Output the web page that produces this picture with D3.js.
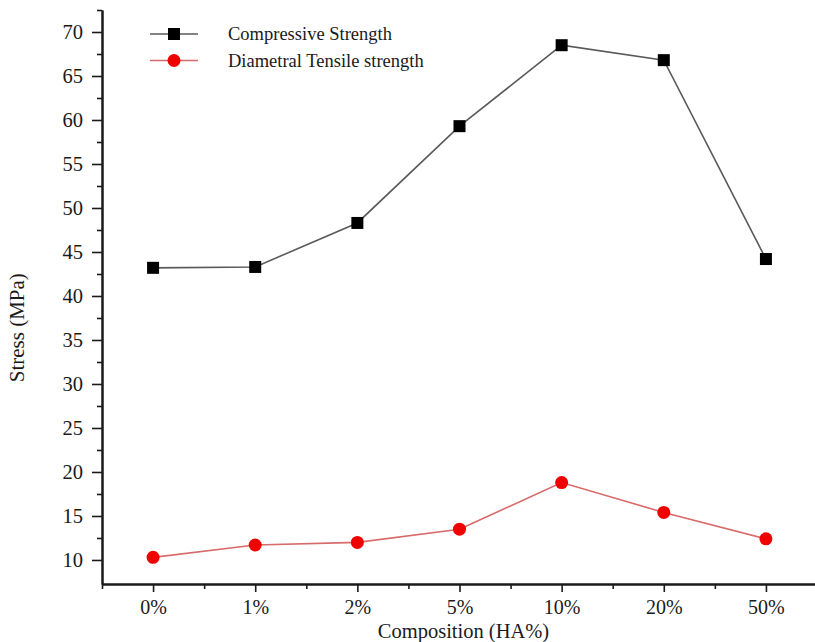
<!DOCTYPE html>
<html>
<head>
<meta charset="utf-8">
<script src="https://cdn.jsdelivr.net/npm/d3@7"></script>
<style>
  html, body { margin: 0; padding: 0; background: #fff; }
  svg { display: block; }
  text { font-family: "Times New Roman", "Liberation Serif", serif; fill: #1a1a1a; }
</style>
</head>
<body>
<svg id="chart" width="815" height="642"></svg>
<script>
// Composition categories (HA content)
const categories = ["0%", "1%", "2%", "5%", "10%", "20%", "50%"];
// Mechanical properties in MPa
const compressive = [43.2, 43.3, 48.3, 59.3, 68.5, 66.8, 44.2];
const tensile = [10.3, 11.7, 12.0, 13.5, 18.8, 15.4, 12.4];
// Y-axis tick values
const yMajorTicks = [10, 15, 20, 25, 30, 35, 40, 45, 50, 55, 60, 65, 70];
const yMinorTicks = [12.5, 17.5, 22.5, 27.5, 32.5, 37.5, 42.5, 47.5, 52.5, 57.5, 62.5, 67.5, 72.5];

const seriesList = [
  { name: "Compressive Strength", values: compressive, line: "#5a5a5a", fill: "#000", shape: "square" },
  { name: "Diametral Tensile strength", values: tensile, line: "#d86a6a", fill: "#f00000", shape: "circle" }
];

const serif = "'Times New Roman', 'Liberation Serif', serif";
const svg = d3.select("#chart");

const axisLeftX = 102, axisBottomY = 584, axisTopY = 10;

const x = d3.scaleLinear().domain([-0.5, 6.5]).range([axisLeftX, 817]);
const y = d3.scaleLinear().domain([7.27, 72.5]).range([axisBottomY, axisTopY]);

// Axes with major and minor ticks
const xAxisG = svg.append("g").attr("transform", `translate(0,${axisBottomY})`);
xAxisG.call(d3.axisBottom(x).tickValues(d3.range(categories.length))
  .tickFormat(i => categories[i]).tickSize(8).tickPadding(8).tickSizeOuter(0));
const xMinor = svg.append("g").attr("transform", `translate(0,${axisBottomY})`);
xMinor.call(d3.axisBottom(x).tickValues(d3.range(-0.5, 6.6, 1)).tickFormat("").tickSize(5).tickSizeOuter(0));

const yAxisG = svg.append("g").attr("transform", `translate(${axisLeftX},0)`);
yAxisG.call(d3.axisLeft(y).tickValues(yMajorTicks).tickSize(10).tickPadding(9).tickSizeOuter(0));
const yMinor = svg.append("g").attr("transform", `translate(${axisLeftX},0)`);
yMinor.call(d3.axisLeft(y).tickValues(yMinorTicks).tickFormat("").tickSize(5).tickSizeOuter(0));

[xAxisG, xMinor, yAxisG, yMinor].forEach(g => {
  g.attr("font-family", serif);
  g.selectAll(".domain").attr("stroke", "#1a1a1a").attr("stroke-width", 2);
  g.selectAll(".tick line").attr("stroke", "#1a1a1a").attr("stroke-width", 1.6);
  g.selectAll(".tick text")
    .style("font-family", serif).style("font-size", "20.5px").style("fill", "#1a1a1a");
});
xAxisG.selectAll(".tick text").style("font-size", "20px");

// Axis titles
svg.append("text")
  .attr("x", x(3) + 4).attr("y", 638)
  .attr("text-anchor", "middle").style("font-size", "20.5px")
  .text("Composition (HA%)");
svg.append("text")
  .attr("transform", `translate(24,${y(36.4)}) rotate(-90)`)
  .attr("text-anchor", "middle").style("font-size", "21px")
  .text("Stress (MPa)");

// Series lines and markers
const line = d3.line().x((d, i) => x(i)).y(d => y(d));

seriesList.forEach(s => {
  svg.append("path").datum(s.values)
    .attr("d", line).attr("fill", "none")
    .attr("stroke", s.line).attr("stroke-width", 1.6);
  const g = svg.append("g");
  if (s.shape === "square") {
    g.selectAll("rect").data(s.values).join("rect")
      .attr("x", (d, i) => x(i) - 6).attr("y", d => y(d) - 6)
      .attr("width", 12).attr("height", 12).attr("fill", s.fill);
  } else {
    g.selectAll("circle").data(s.values).join("circle")
      .attr("cx", (d, i) => x(i)).attr("cy", d => y(d))
      .attr("r", 6.5).attr("fill", s.fill);
  }
});

// Legend
const legend = svg.append("g");
seriesList.forEach((s, k) => {
  const cy = 34 + k * 26.5;
  legend.append("line").attr("x1", 150).attr("x2", 198).attr("y1", cy).attr("y2", cy)
    .attr("stroke", s.line).attr("stroke-width", 1.6);
  if (s.shape === "square") {
    legend.append("rect").attr("x", 168).attr("y", cy - 6).attr("width", 12).attr("height", 12).attr("fill", s.fill);
  } else {
    legend.append("circle").attr("cx", 174).attr("cy", cy).attr("r", 6.5).attr("fill", s.fill);
  }
  legend.append("text").attr("x", 228).attr("y", cy + 6).style("font-size", "18.5px").text(s.name);
});
</script>
</body>
</html>
